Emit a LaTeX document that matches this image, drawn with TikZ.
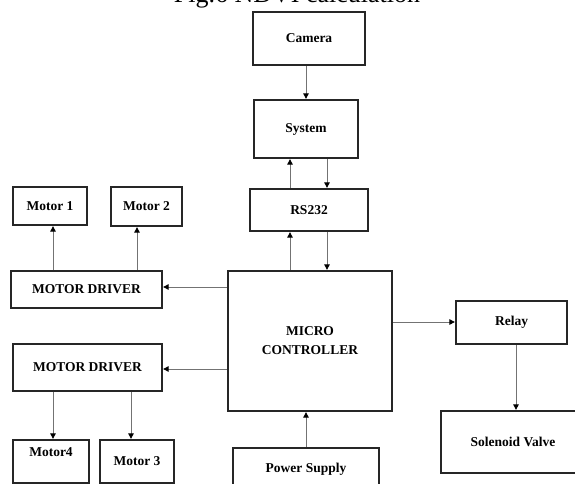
\documentclass[tikz,border=0pt]{standalone}
\usepackage{fontspec}
\setmainfont{Liberation Serif}
\usetikzlibrary{arrows.meta}
\begin{document}
\begin{tikzpicture}[x=1pt,y=-1pt,
  blk/.style={draw=black!85, line width=2.3pt, fill=white, inner sep=0pt,
    font=\fontsize{13.5}{19}\selectfont\bfseries, align=center},
  arr/.style={draw=black!55, line width=0.9pt,
    -{Triangle[length=5.5pt,width=5.5pt,color=black]}}]
\useasboundingbox (0,0) rectangle (575,484);
\node[font=\fontsize{26}{30}\selectfont, anchor=base, inner sep=0pt] (cap) at (297,2.5) {Fig.6 NDVI calculation};
\node[blk, minimum width=112pt, minimum height=53pt] (camera) at (309,38.5) {Camera};
\node[blk, minimum width=104pt, minimum height=58pt] (system) at (306,129) {System};
\node[blk, minimum width=118pt, minimum height=42pt] (rs) at (309,210) {RS232};
\node[blk, minimum width=164pt, minimum height=140pt] (micro) at (310,341) {MICRO\\CONTROLLER};
\node[blk, minimum width=74pt, minimum height=38pt] (m1) at (50,206) {Motor 1};
\node[blk, minimum width=71pt, minimum height=39pt] (m2) at (146.5,206.5) {Motor 2};
\node[blk, minimum width=151pt, minimum height=37pt] (md1) at (86.5,289.5) {MOTOR DRIVER};
\node[blk, minimum width=149pt, minimum height=47pt] (md2) at (87.5,367.5) {MOTOR DRIVER};
\node[blk, minimum width=76pt, minimum height=43pt] (m4) at (51,461.5) {Motor4\\\mbox{}};
\node[blk, minimum width=74pt, minimum height=43pt] (m3) at (137,461.5) {Motor 3};
\node[blk, minimum width=146pt, minimum height=42pt] (power) at (306,469) {Power Supply};
\node[blk, minimum width=111pt, minimum height=43pt] (relay) at (511.5,322.5) {Relay};
\node[blk, minimum width=144pt, minimum height=62pt] (sol) at (513,442) {Solenoid Valve};
\coordinate (cA) at (306,0);
\coordinate (cU) at (290,0);
\coordinate (cD) at (327,0);
\coordinate (cM1) at (53,0);
\coordinate (cM2) at (137,0);
\coordinate (cM3) at (131,0);
\coordinate (cR) at (516,0);
\coordinate (hA) at (0,287);
\coordinate (hB) at (0,369);
\coordinate (hC) at (0,322);
\draw[arr] (camera.south -| cA) -- (system.north -| cA);
\draw[arr] (system.south -| cD) -- (rs.north -| cD);
\draw[arr] (rs.north -| cU) -- (system.south -| cU);
\draw[arr] (rs.south -| cD) -- (micro.north -| cD);
\draw[arr] (micro.north -| cU) -- (rs.south -| cU);
\draw[arr] (micro.west |- hA) -- (md1.east |- hA);
\draw[arr] (micro.west |- hB) -- (md2.east |- hB);
\draw[arr] (md1.north -| cM1) -- (m1.south -| cM1);
\draw[arr] (md1.north -| cM2) -- (m2.south -| cM2);
\draw[arr] (md2.south -| cM1) -- (m4.north -| cM1);
\draw[arr] (md2.south -| cM3) -- (m3.north -| cM3);
\draw[arr] (micro.east |- hC) -- (relay.west |- hC);
\draw[arr] (relay.south -| cR) -- (sol.north -| cR);
\draw[arr] (power.north -| cA) -- (micro.south -| cA);
\end{tikzpicture}
\end{document}
